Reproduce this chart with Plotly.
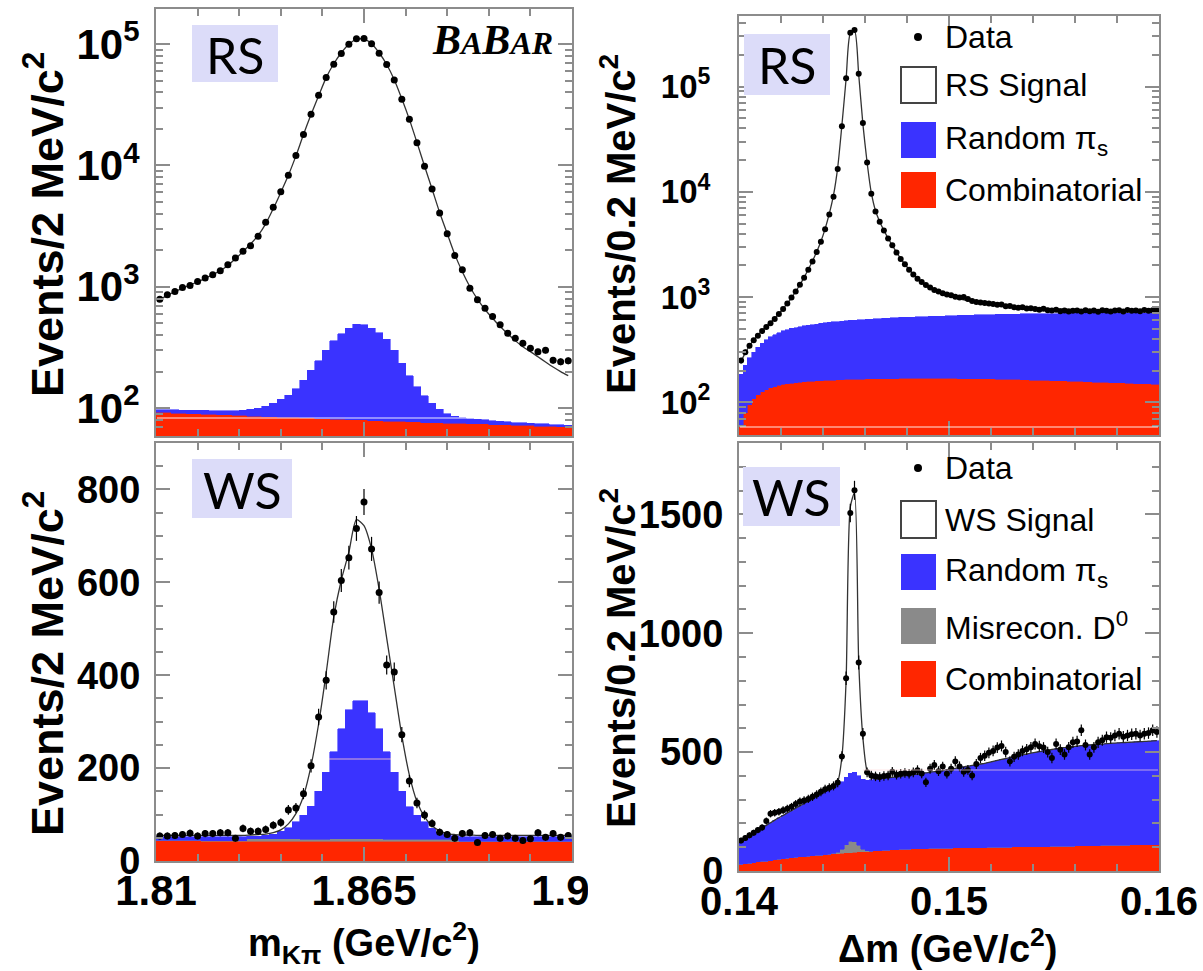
import numpy as np
import plotly.graph_objects as go

# ---------------------------------------------------------------- data
# m(K pi): 2 MeV/c^2 bins from 1.81 to 1.92 GeV/c^2
mkpi_x = np.round(1.811 + 0.002 * np.arange(55), 4)
# delta m: 0.2 MeV/c^2 bins from 0.14 to 0.16 GeV/c^2
dm_x = np.round(0.1401 + 0.0002 * np.arange(100), 5)

# ---- right-sign, m(K pi)
rs_mkpi_data = [790, 860, 915, 985, 1025, 1105, 1180, 1255, 1355, 1520,
                1725, 1960, 2180, 2610, 3400, 4530, 6060, 8300, 12100, 18000,
                26400, 37900, 53100, 68400, 83800, 100000, 111000, 111500, 101000, 84000,
                68000, 50700, 35100, 24000, 15400, 9860, 6410, 4060, 2740, 1815,
                1380, 975, 782, 667, 569, 486, 414, 376, 342, 311,
                292, 300, 248, 241, 246]
rs_mkpi_fit = [785, 850, 912, 975, 1035, 1100, 1175, 1260, 1360, 1500,
               1700, 1950, 2250, 2650, 3300, 4400, 6000, 8300, 12000, 18000,
               26300, 37500, 53000, 69000, 85000, 100000, 109500, 110000, 101000, 85000,
               68000, 51000, 35500, 24000, 15500, 9900, 6400, 4100, 2750, 1850,
               1330, 1000, 790, 650, 550, 470, 410, 360, 320, 292,
               265, 240, 218, 200, 185]
rs_mkpi_bkg_total = [97, 97, 97, 96, 96, 96, 96, 95, 95, 95,
                     95, 96, 98, 100, 104, 110, 118, 128, 145, 170,
                     205, 245, 300, 360, 410, 455, 490, 485, 455, 420,
                     370, 300, 235, 185, 150, 127, 110, 98, 90, 86,
                     83, 82, 81, 80, 79, 78, 77, 76, 76, 75,
                     74, 74, 73, 73, 72]
rs_mkpi_comb = [92, 92, 91, 91, 90, 90, 89, 89, 88, 88,
                87, 87, 86, 86, 85, 85, 84, 84, 84, 83,
                83, 82, 82, 81, 81, 80, 80, 80, 79, 79,
                78, 78, 78, 77, 77, 76, 76, 76, 75, 75,
                75, 74, 74, 74, 73, 73, 73, 72, 72, 72,
                71, 71, 71, 70, 70]

# ---- right-sign, delta m
rs_dm_data = [250, 300, 345, 390, 430, 475, 520, 565, 620, 690,
              770, 870, 990, 1130, 1310, 1530, 1820, 2180, 2680, 3350,
              4400, 6100, 9000, 16500, 42000, 120000, 325000, 345000, 132000, 45000,
              19000, 9600, 6500, 5200, 4300, 3600, 3100, 2650, 2300, 2050,
              1820, 1640, 1490, 1390, 1300, 1230, 1170, 1130, 1090, 1060,
              1040, 1010, 990, 1000, 960, 920, 900, 890, 880, 870,
              860, 845, 850, 820, 825, 800, 790, 800, 780, 785,
              770, 760, 775, 750, 745, 760, 735, 745, 730, 740,
              745, 730, 750, 735, 745, 725, 750, 740, 730, 745,
              750, 730, 755, 740, 745, 735, 755, 740, 750, 745]
rs_dm_fit = [245, 295, 345, 390, 435, 480, 525, 575, 630, 695,
             775, 870, 985, 1130, 1310, 1540, 1830, 2200, 2700, 3380,
             4450, 6200, 9300, 17000, 43000, 118000, 320000, 340000, 130000, 44000,
             19000, 9800, 6600, 5200, 4300, 3620, 3100, 2670, 2320, 2050,
             1830, 1650, 1500, 1390, 1300, 1225, 1165, 1115, 1075, 1040,
             1010, 985, 962, 942, 925, 910, 895, 882, 870, 860,
             850, 841, 833, 826, 819, 813, 807, 802, 797, 793,
             789, 785, 782, 779, 776, 773, 771, 769, 767, 765,
             763, 761, 760, 758, 757, 756, 755, 754, 753, 752,
             751, 750, 749, 748, 747, 746, 746, 745, 745, 744]
rs_dm_bkg_total = [185, 225, 265, 300, 335, 365, 395, 420, 440, 460,
                   478, 492, 504, 514, 524, 532, 540, 548, 555, 562,
                   568, 574, 580, 585, 590, 595, 600, 604, 608, 612,
                   616, 619, 622, 625, 628, 631, 634, 637, 640, 642,
                   645, 647, 649, 651, 653, 655, 657, 659, 661, 663,
                   665, 667, 669, 671, 672, 674, 676, 678, 679, 681,
                   682, 684, 685, 686, 688, 689, 690, 691, 692, 693,
                   694, 695, 696, 697, 698, 698, 699, 700, 700, 701,
                   701, 702, 702, 703, 703, 703, 704, 704, 704, 705,
                   705, 705, 705, 706, 706, 706, 706, 706, 707, 707]
rs_dm_comb = [60, 80, 95, 108, 118, 126, 132, 137, 141, 145,
              148, 150, 152, 154, 156, 157, 158, 159, 160, 161,
              162, 163, 163, 164, 164, 165, 165, 166, 166, 166,
              167, 167, 167, 168, 168, 168, 168, 168, 169, 169,
              169, 169, 169, 169, 169, 169, 169, 169, 169, 169,
              169, 169, 168, 168, 168, 168, 168, 167, 167, 167,
              167, 166, 166, 166, 165, 165, 165, 164, 164, 163,
              163, 163, 162, 162, 161, 161, 160, 160, 159, 159,
              158, 158, 157, 157, 156, 156, 155, 155, 154, 154,
              153, 153, 152, 152, 151, 151, 150, 150, 149, 149]

# ---- wrong-sign, m(K pi)
ws_mkpi_data = [54, 54, 55, 57, 60, 54, 59, 59, 61, 61,
                49, 70, 64, 64, 68, 77, 83, 110, 114, 145,
                205, 310, 389, 536, 604, 653, 716, 773, 672, 578,
                422, 407, 272, 172, 125, 99, 81, 62, 57, 49,
                59, 61, 40, 55, 57, 49, 54, 49, 44, 48,
                61, 51, 59, 51, 55]
ws_mkpi_fit = [55, 55, 55, 55, 55, 55, 55, 55, 55, 55,
               55, 55, 56, 57, 58, 61, 67, 80, 102, 140,
               205, 295, 405, 525, 605, 665, 735, 722, 672, 585,
               480, 375, 270, 185, 128, 95, 76, 65, 59, 57,
               56, 56, 55, 55, 55, 55, 55, 55, 55, 55,
               55, 55, 55, 55, 55]
ws_mkpi_bkg_total = [52, 52, 52, 52, 52, 52, 52, 52, 52, 52,
                     52, 52, 53, 53, 55, 58, 64, 72, 84, 99,
                     118, 150, 191, 235, 285, 326, 345, 345, 319, 285,
                     235, 191, 150, 117, 99, 84, 70, 62, 57, 54,
                     52, 52, 52, 52, 52, 52, 52, 52, 52, 52,
                     52, 52, 52, 52, 52]
ws_mkpi_misrecon = [1, 1, 1, 1, 1, 1, 1, 1, 1, 1,
                    1, 1, 5, 5, 5, 5, 5, 5, 5, 5,
                    5, 5, 5, 6, 6, 6, 6, 6, 6, 6,
                    5, 5, 5, 5, 5, 5, 5, 5, 5, 5,
                    1, 1, 1, 1, 1, 1, 1, 1, 1, 1,
                    1, 1, 1, 1, 1]
ws_mkpi_comb = [44, 44, 44, 44, 44, 44, 43, 43, 43, 43,
                43, 43, 43, 43, 43, 43, 43, 43, 43, 42,
                42, 42, 42, 42, 42, 42, 42, 42, 42, 42,
                42, 42, 42, 42, 42, 42, 42, 42, 42, 41,
                41, 41, 41, 41, 41, 41, 41, 41, 41, 41,
                41, 41, 41, 41, 41]

# ---- wrong-sign, delta m
ws_dm_data = [128, 139, 150, 161, 172, 183, 210, 241, 245, 249,
              256, 262, 270, 282, 292, 297, 303, 312, 322, 333,
              344, 350, 358, 372, 482, 811, 1506, 1601, 877, 577,
              415, 402, 398, 395, 400, 402, 417, 405, 409, 412,
              409, 415, 424, 410, 373, 430, 446, 420, 439, 409,
              430, 461, 440, 417, 425, 402, 450, 475, 485, 497,
              505, 519, 526, 500, 461, 480, 490, 505, 512, 520,
              534, 525, 519, 500, 475, 534, 510, 490, 520, 541,
              545, 592, 530, 490, 520, 541, 550, 563, 560, 570,
              577, 565, 570, 575, 577, 570, 577, 580, 592, 585]
ws_dm_fit = [122, 134, 146, 158, 170, 181, 192, 203, 214, 224,
             234, 244, 254, 264, 274, 284, 294, 304, 314, 324,
             334, 343, 353, 375, 480, 800, 1530, 1590, 880, 560,
             420, 392, 387, 388, 390, 392, 394, 396, 398, 401,
             403, 405, 408, 410, 413, 415, 418, 420, 423, 426,
             429, 432, 435, 438, 441, 444, 447, 450, 453, 457,
             461, 465, 469, 473, 477, 481, 485, 489, 492, 496,
             499, 502, 505, 508, 511, 514, 517, 519, 521, 523,
             525, 527, 529, 530, 532, 533, 534, 536, 537, 538,
             539, 540, 541, 542, 543, 544, 545, 546, 547, 548]
ws_dm_bkg_total = [122, 134, 146, 158, 170, 181, 192, 203, 214, 224,
                   234, 244, 254, 264, 274, 284, 294, 304, 314, 324,
                   334, 343, 352, 362, 375, 395, 412, 416, 400, 385,
                   382, 384, 386, 388, 390, 392, 394, 396, 398, 401,
                   403, 405, 408, 410, 413, 415, 418, 420, 423, 426,
                   429, 432, 435, 438, 441, 444, 447, 450, 453, 457,
                   461, 465, 469, 473, 477, 481, 485, 489, 492, 496,
                   499, 502, 505, 508, 511, 514, 517, 519, 521, 523,
                   525, 527, 529, 530, 532, 533, 534, 536, 537, 538,
                   539, 540, 541, 542, 543, 544, 545, 546, 547, 548]
ws_dm_misrecon = [0, 0, 0, 0, 0, 0, 0, 0, 0, 0,
                  0, 0, 0, 0, 0, 0, 0, 0, 0, 0,
                  0, 0, 2, 6, 16, 34, 48, 45, 28, 10,
                  3, 0, 0, 0, 0, 0, 0, 0, 0, 0,
                  0, 0, 0, 0, 0, 0, 0, 0, 0, 0,
                  0, 0, 0, 0, 0, 0, 0, 0, 0, 0,
                  0, 0, 0, 0, 0, 0, 0, 0, 0, 0,
                  0, 0, 0, 0, 0, 0, 0, 0, 0, 0,
                  0, 0, 0, 0, 0, 0, 0, 0, 0, 0,
                  0, 0, 0, 0, 0, 0, 0, 0, 0, 0]
ws_dm_comb = [28, 31, 33, 35, 38, 40, 42, 44, 47, 49,
              51, 53, 55, 57, 59, 61, 62, 64, 66, 67,
              69, 70, 72, 73, 75, 76, 77, 79, 80, 81,
              82, 84, 85, 86, 87, 88, 89, 90, 91, 92,
              92, 93, 93, 94, 94, 95, 95, 95, 96, 96,
              96, 97, 97, 97, 97, 98, 98, 98, 98, 99,
              99, 99, 100, 100, 100, 101, 101, 101, 102, 102,
              102, 103, 103, 103, 104, 104, 104, 105, 105, 105,
              106, 106, 106, 107, 107, 107, 108, 108, 108, 109,
              109, 109, 109, 110, 110, 110, 110, 111, 111, 111]

# ---------------------------------------------------------------- style
W, H = 1203, 971
BLUE = "#3a33ff"
RED = "#ff2600"
GRAY = "#8a8a8a"
FRAME = "#8c8c8c"
TAG_BG = "#dcdcf9"
SANS = "Liberation Sans, Arial, sans-serif"


def px(x):
    return x / W


def py(y):
    return 1 - y / H


fig = go.Figure()


def add_panel(xa, ya, x, width, data, fit, total, comb, misrecon=None, msize=7):
    comb = np.asarray(comb, float)
    mis = np.zeros_like(comb) if misrecon is None else np.asarray(misrecon, float)
    rand = np.asarray(total, float) - comb - mis
    bar_kw = dict(x=x, width=width, xaxis=xa, yaxis=ya, hoverinfo="skip")
    fig.add_bar(y=comb, marker=dict(color=RED, line=dict(color=RED, width=0.6)), **bar_kw)
    if misrecon is not None:
        fig.add_bar(y=mis, marker=dict(color=GRAY, line=dict(color=GRAY, width=0.6)), **bar_kw)
    fig.add_bar(y=rand, marker=dict(color=BLUE, line=dict(color=BLUE, width=0.6)), **bar_kw)
    fig.add_scatter(x=x, y=fit, mode="lines", xaxis=xa, yaxis=ya,
                    line=dict(color="#333333", width=1.3, shape="spline", smoothing=0.7))
    d = np.asarray(data, float)
    fig.add_scatter(x=x, y=d, mode="markers", xaxis=xa, yaxis=ya,
                    marker=dict(color="black", size=msize),
                    error_y=dict(type="data", array=np.sqrt(d), thickness=1.2,
                                 width=0, color="black"))


add_panel("x", "y", mkpi_x, 0.002, rs_mkpi_data, rs_mkpi_fit, rs_mkpi_bkg_total, rs_mkpi_comb)
add_panel("x2", "y2", dm_x, 0.0002, rs_dm_data, rs_dm_fit, rs_dm_bkg_total, rs_dm_comb, msize=6)
add_panel("x3", "y3", mkpi_x, 0.002, ws_mkpi_data, ws_mkpi_fit, ws_mkpi_bkg_total,
          ws_mkpi_comb, ws_mkpi_misrecon)
add_panel("x4", "y4", dm_x, 0.0002, ws_dm_data, ws_dm_fit, ws_dm_bkg_total,
          ws_dm_comb, ws_dm_misrecon, msize=6)

# ---------------------------------------------------------------- axes
def bold(size):
    return dict(family=SANS, size=size, color="black", weight="bold")


def frame(**kw):
    base = dict(showline=True, linecolor=FRAME, linewidth=2, mirror="ticks",
                ticks="inside", ticklen=14, tickwidth=1.5, tickcolor=FRAME,
                showgrid=False, zeroline=False, automargin=False, tickfont=bold(38))
    base.update(kw)
    return base


def minor(**kw):
    return dict(ticks="inside", ticklen=7, tickwidth=1.5, tickcolor=FRAME, **kw)


def log_minor(lo, hi):
    return [m * 10 ** e for e in range(1, 6) for m in range(2, 10) if lo <= m * 10 ** e <= hi]


LOG_TICKS = [1e2, 1e3, 1e4, 1e5]
LOG_TEXT = ["10<sup>2</sup>", "10<sup>3</sup>", "10<sup>4</sup>", "10<sup>5</sup>"]

mkpi_ticks = [1.81, 1.865, 1.92]
mkpi_text = ["1.81", "1.865", "1.92"]
mkpi_minor = [1.821, 1.832, 1.843, 1.854, 1.876, 1.887, 1.898, 1.909]
dm_ticks = [0.14, 0.15, 0.16]
dm_text = ["0.14", "0.15", "0.16"]

L_DOM = [px(156), px(572)]
R_DOM = [px(739), px(1159)]

fig.update_layout(
    template="none",
    xaxis=frame(domain=L_DOM, anchor="y", range=[1.81, 1.92], tickmode="array",
                tickvals=mkpi_ticks, showticklabels=False,
                minor=minor(tickvals=mkpi_minor)),
    yaxis=frame(domain=[py(436), py(9)], anchor="x", type="log", range=[1.77, 5.29],
                tickmode="array", tickvals=LOG_TICKS, ticktext=LOG_TEXT,
                ticklabelstandoff=6, tickfont=bold(42),
                minor=minor(tickvals=log_minor(50, 2e5))),
    xaxis2=frame(domain=R_DOM, anchor="y2", range=[0.14, 0.16], tickmode="array",
                 tickvals=dm_ticks, showticklabels=False, minor=minor(dtick=0.002)),
    yaxis2=frame(domain=[py(435), py(16)], anchor="x2", type="log", range=[1.69, 5.67],
                 tickmode="array", tickvals=LOG_TICKS, ticktext=LOG_TEXT,
                 ticklabelstandoff=20, tickfont=bold(33),
                 minor=minor(tickvals=log_minor(40, 5e5))),
    xaxis3=frame(domain=L_DOM, anchor="y3", range=[1.81, 1.92], tickmode="array",
                 tickvals=mkpi_ticks, ticktext=mkpi_text, ticklabelstandoff=-8,
                 tickfont=bold(42), minor=minor(tickvals=mkpi_minor)),
    yaxis3=frame(domain=[py(861), py(443)], anchor="x3", range=[0, 900],
                 tickmode="array", tickvals=[0, 200, 400, 600, 800], ticklabelstandoff=6,
                 minor=minor(dtick=50)),
    xaxis4=frame(domain=R_DOM, anchor="y4", range=[0.14, 0.16], tickmode="array",
                 tickvals=dm_ticks, ticktext=dm_text, ticklabelstandoff=-6,
                 tickfont=bold(40), minor=minor(dtick=0.002)),
    yaxis4=frame(domain=[py(871), py(443)], anchor="x4", range=[0, 1800],
                 tickmode="array", tickvals=[0, 500, 1000, 1500], ticklabelstandoff=6,
                 minor=minor(dtick=100)),
)

# ---------------------------------------------------------------- decorations
shapes = []
ann = []


def text(x, y, s, size, family=SANS, weight="normal", angle=0, xanchor="center"):
    ann.append(dict(x=px(x), y=py(y), xref="paper", yref="paper", text=s, showarrow=False,
                    textangle=angle, xanchor=xanchor, yanchor="middle",
                    font=dict(family=family, size=size, color="black", weight=weight)))


def rect(x0, y0, x1, y1, fill, line=None, lw=0, layer="above"):
    shapes.append(dict(type="rect", xref="paper", yref="paper",
                       x0=px(x0), x1=px(x1), y0=py(y1), y1=py(y0),
                       fillcolor=fill, line=dict(color=line or fill, width=lw), layer=layer))


def hairline(x0, x1, y, color):
    shapes.append(dict(type="line", xref="paper", yref="paper",
                       x0=px(x0), x1=px(x1), y0=py(y), y1=py(y),
                       line=dict(color=color, width=1.5), layer="above"))


# faint horizontal streaks running through the filled backgrounds
hairline(157, 571, 418, "rgba(255,255,255,0.6)")
hairline(740, 1158, 427, "rgba(255,255,255,0.6)")
hairline(329, 391, 759, "rgba(255,200,200,0.55)")
hairline(863, 1158, 770, "rgba(255,220,220,0.45)")

# axis titles
text(44, 225, "Events/2 MeV/c<sup>2</sup>", 45, weight="bold", angle=-90)
text(44, 664, "Events/2 MeV/c<sup>2</sup>", 45, weight="bold", angle=-90)
text(618, 224, "Events/0.2 MeV/c<sup>2</sup>", 40, weight="bold", angle=-90)
text(618, 658, "Events/0.2 MeV/c<sup>2</sup>", 40, weight="bold", angle=-90)
text(364, 943, "m<sub>Kπ</sub> (GeV/c<sup>2</sup>)", 38, weight="bold")
text(948, 946, "Δm (GeV/c<sup>2</sup>)", 38, weight="bold")

# the left-hand figure ends just past its last axis label
rect(588, 862, 660, 916, "white")

# sample tags
for (x0, y0, x1, y1, tag) in [(192, 25, 278, 82, "RS"), (192, 459, 292, 518, "WS"),
                              (744, 34, 830, 95, "RS"), (743, 467, 840, 526, "WS")]:
    rect(x0, y0, x1, y1, TAG_BG)
    text((x0 + x1) / 2, (y0 + y1) / 2 + 1, tag, 50, family="Lato, Open Sans, sans-serif")

# experiment label
text(493, 40, "<i>B<span style='font-size:32px'>A</span>B<span style='font-size:32px'>AR</span></i>",
     42, family="Liberation Serif, Times New Roman, serif", weight="bold")

# legends
LEG_X0, LEG_X1, LEG_TX = 901, 936, 943


def legend(entries, data_y):
    shapes.append(dict(type="circle", xref="paper", yref="paper",
                       x0=px(914), x1=px(922), y0=py(data_y + 4), y1=py(data_y - 4),
                       fillcolor="black", line=dict(color="black", width=0)))
    text(LEG_TX, data_y, "Data", 32, xanchor="left")
    for (y0, y1, fill, line, label) in entries:
        rect(LEG_X0, y0, LEG_X1, y1, fill, line=line, lw=2 if line else 0)
        text(LEG_TX, (y0 + y1) / 2, label, 32, xanchor="left")


legend([(67, 103, "white", "#444444", "RS Signal"),
        (122, 158, BLUE, None, "Random π<sub>s</sub>"),
        (172, 208, RED, None, "Combinatorial")], 37)
legend([(501, 538, "white", "#444444", "WS Signal"),
        (554, 590, BLUE, None, "Random π<sub>s</sub>"),
        (608, 644, GRAY, None, "Misrecon. D<sup>0</sup>"),
        (661, 697, RED, None, "Combinatorial")], 468)

fig.update_layout(
    width=W, height=H, margin=dict(l=0, r=0, t=0, b=0, autoexpand=False),
    paper_bgcolor="white", plot_bgcolor="white",
    barmode="stack", showlegend=False,
    shapes=shapes, annotations=ann,
)

fig.write_html("out.html")
